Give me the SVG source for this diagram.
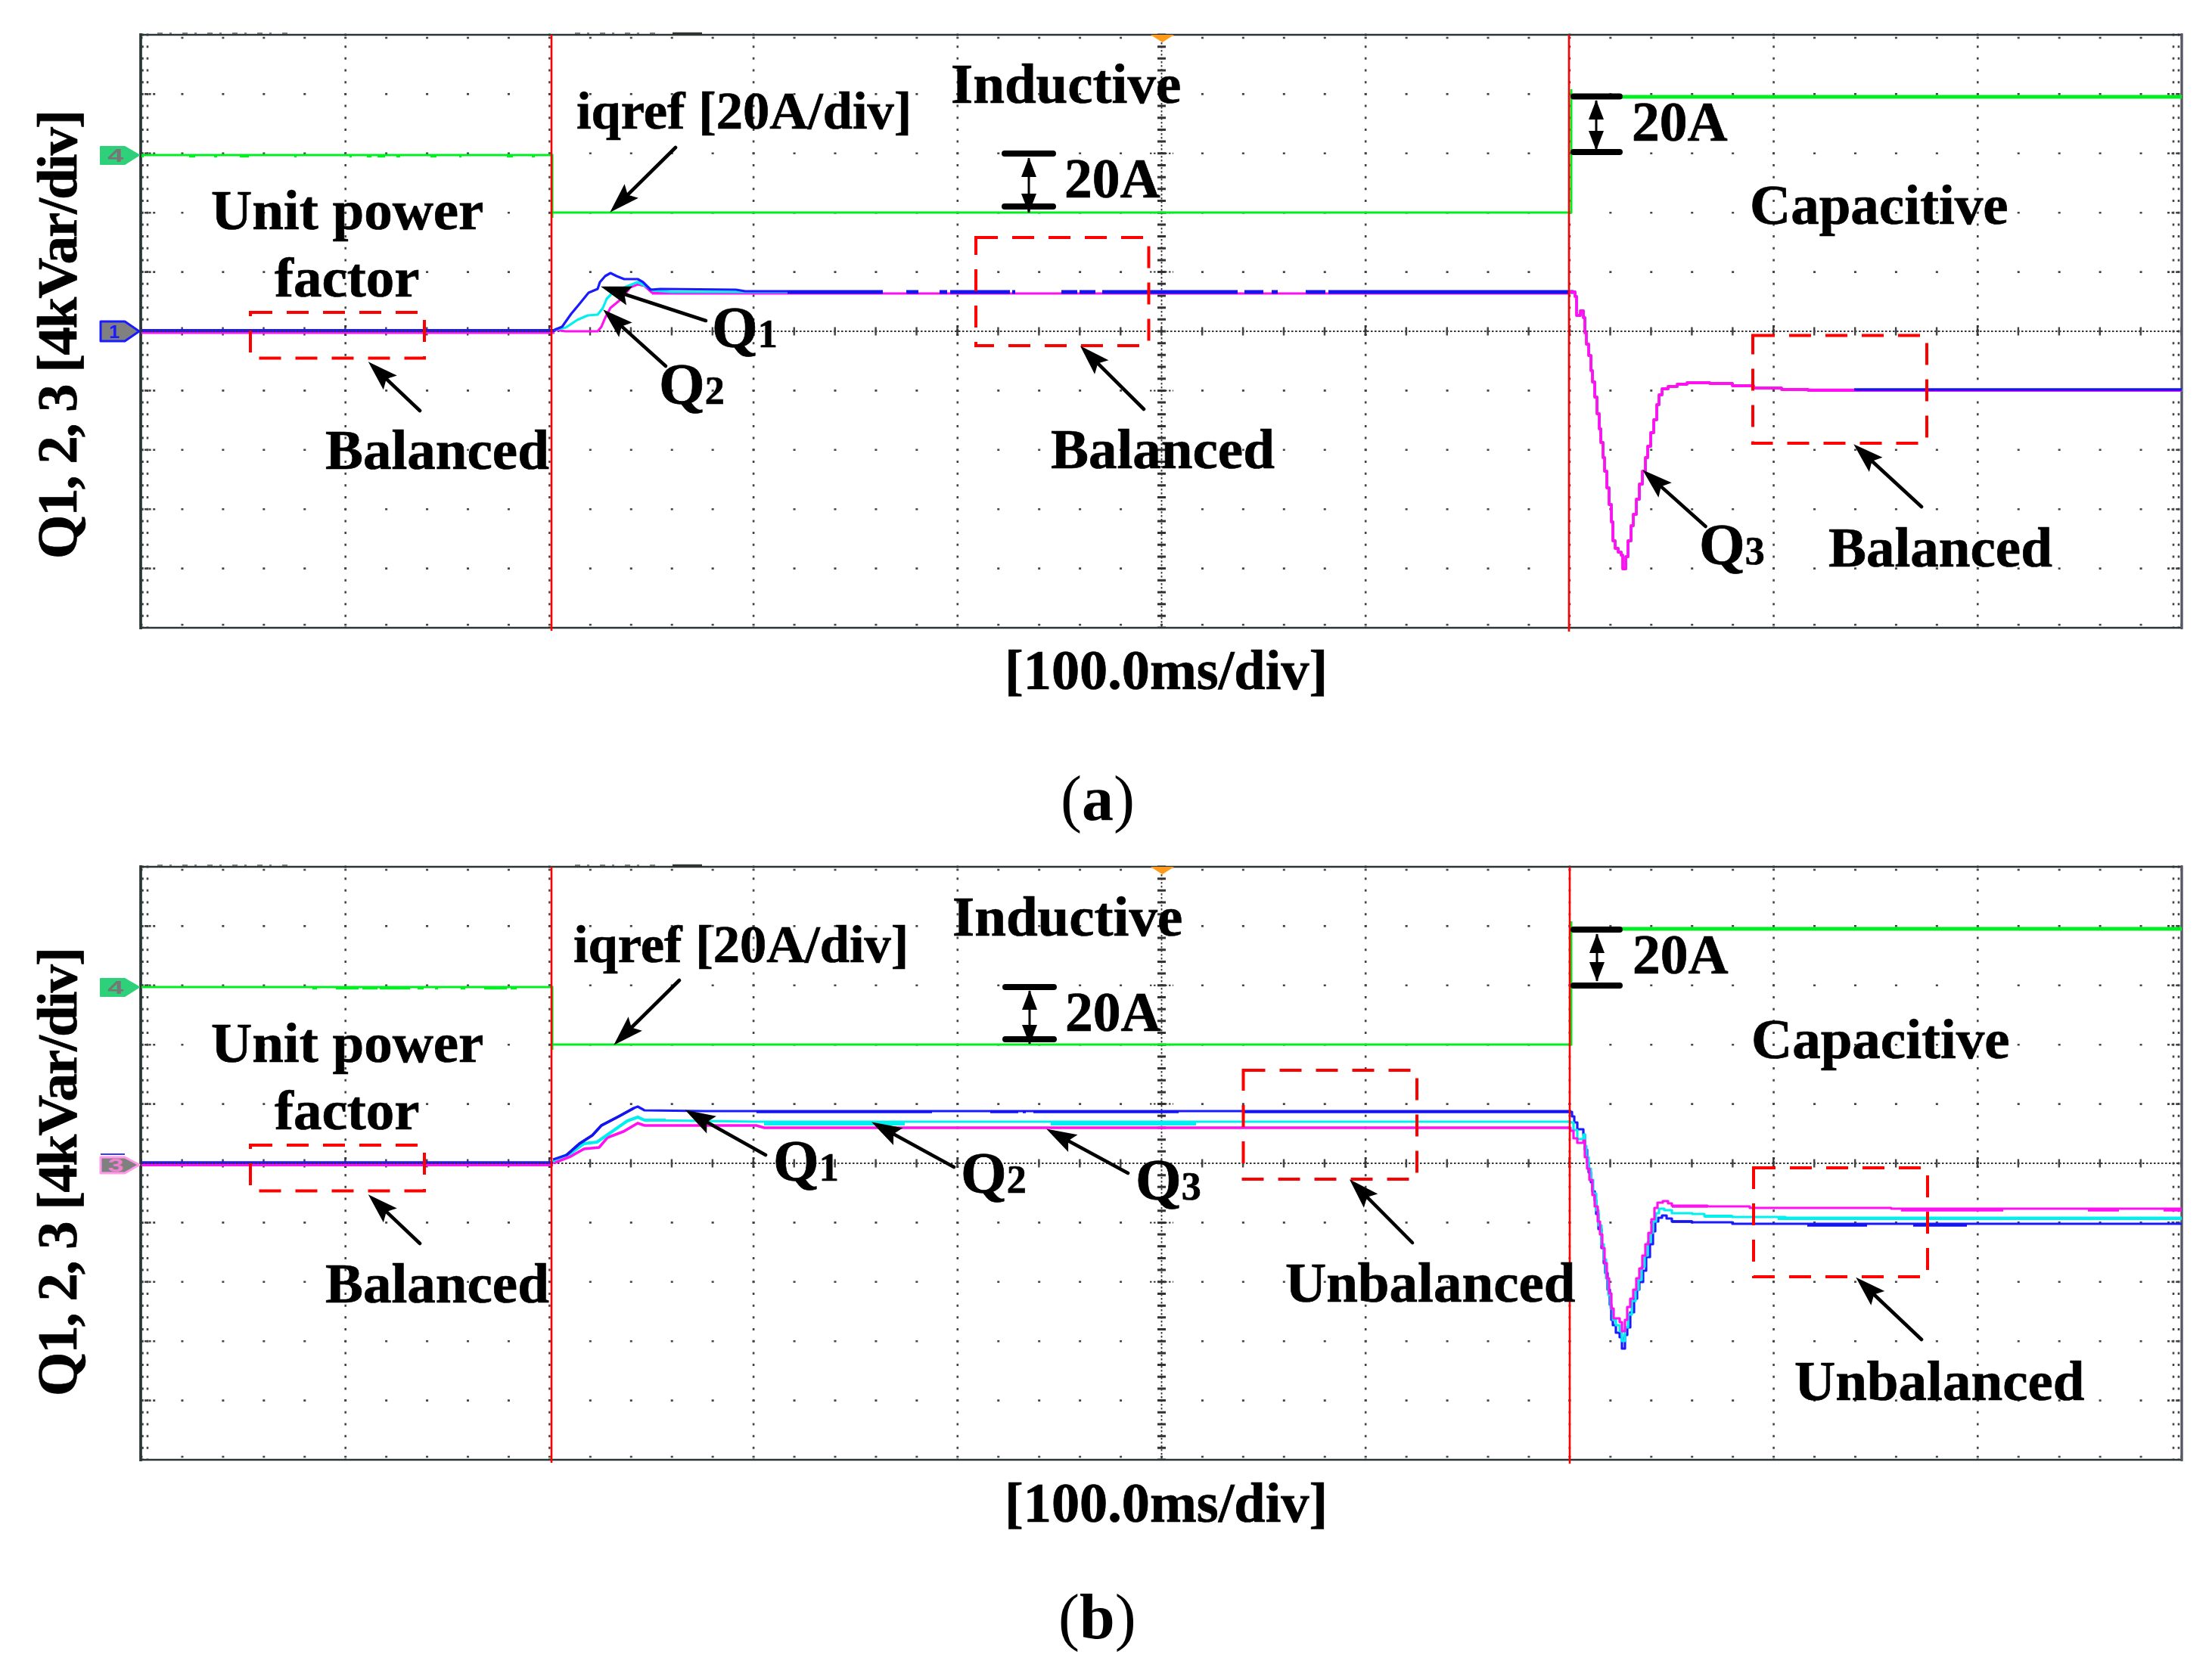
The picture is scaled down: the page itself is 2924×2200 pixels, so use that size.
<svg xmlns="http://www.w3.org/2000/svg" xmlns:xlink="http://www.w3.org/1999/xlink" width="2924" height="2200" viewBox="0 0 2924 2200">
<style>
text{font-family:"Liberation Serif","Times New Roman",serif;font-weight:bold;fill:#000}
.t{font-size:75px;stroke:#000;stroke-width:0.7}
.q{font-size:78px}
.s{font-size:52px}
.c{font-size:84px;font-weight:normal}
.ch{font-family:"Liberation Sans",Arial,sans-serif;font-size:23px;text-anchor:middle}
.d{fill:none;stroke:#444;stroke-width:2.6}
.col{stroke-dasharray:3 12.68}
.row{stroke-dasharray:3 50.94}
.fine{fill:none;stroke:#333;stroke-width:1.8;stroke-dasharray:2.5 2.5}
.frame{fill:none;stroke:#2b3535;stroke-width:2.6}
.red{stroke:#f00;stroke-width:2.6;fill:none}
.green{stroke:#00ee22;stroke-width:3;fill:none}
.gthick{stroke:#00ee22;stroke-width:5;fill:none}
.box{fill:none;stroke:#f00;stroke-width:4;stroke-dasharray:29 19}
.q1,.q2,.q3{fill:none;stroke-width:3.2;stroke-linejoin:round}
.q1{stroke:#1a1aff}.q2{stroke:#00f0f0}.q3{stroke:#ff10f0}
.q1t,.q2t,.q3t{fill:none;stroke-width:5}
.q1t{stroke:#1414f0}.q2t{stroke:#00f0f0}.q3t{stroke:#ff10f0}
.ar{fill:none;stroke:#000;stroke-width:4.6;stroke-linecap:round;stroke-dasharray:85 100;marker-end:url(#ah)}
.da{fill:none;stroke:#000;stroke-width:3;marker-start:url(#dh);marker-end:url(#dh)}
.bar{fill:none;stroke:#000;stroke-width:8;stroke-linecap:round}
</style>
<defs>
<marker id="ah" markerUnits="userSpaceOnUse" markerWidth="44" markerHeight="30" viewBox="0 0 40 30" refX="39" refY="15" orient="auto"><path d="M0 2L40 15L0 28L7 15z" fill="#000"/></marker>
<marker id="dh" markerUnits="userSpaceOnUse" markerWidth="26" markerHeight="24" viewBox="0 0 26 24" refX="25" refY="12" orient="auto-start-reverse"><path d="M0 2L26 12L0 22z" fill="#000"/></marker>
<g id="grid">
<path class="d row" d="M185.5 124.4H2884M185.5 202.8H2884M185.5 281.2H2884M185.5 359.6H2884M185.5 516.4H2884M185.5 594.8H2884M185.5 673.2H2884M185.5 751.6H2884M185.5 50H2884M185.5 826H2884"/>
<path class="d col" d="M456.7 44.5V830M726.4 44.5V830M996.1 44.5V830M1265.8 44.5V830M1805.2 44.5V830M2074.9 44.5V830M2344.6 44.5V830M2614.3 44.5V830M188.5 44.5V830M195 44.5V830M2873 44.5V830M2880 44.5V830"/>
<path class="d" style="stroke-dasharray:3 2.6" d="M191 124.4H206M191 202.8H206M191 281.2H206M191 359.6H206M191 516.4H206M191 594.8H206M191 673.2H206M191 751.6H206M2865 124.4H2882M2865 202.8H2882M2865 281.2H2882M2865 359.6H2882M2865 516.4H2882M2865 594.8H2882M2865 673.2H2882M2865 751.6H2882"/>
<path class="fine" d="M187 438H2884M1535.5 46V830"/>
<path class="d" style="stroke-width:3;stroke-dasharray:2.6 51.34" d="M185.5 438H2884"/>
<path d="M185.5 438H2884" fill="none" stroke="#444" stroke-width="11" stroke-dasharray="2.4 51.54"/>
<path d="M1535.5 44.5V830" fill="none" stroke="#333" stroke-width="11" stroke-dasharray="3 12.68"/>
<path d="M1520 202.8H1551M1520 281.2H1551M1520 359.6H1551M1520 516.4H1551M1520 594.8H1551" fill="none" stroke="#333" stroke-width="2" stroke-dasharray="2.5 2.5"/>
<path d="M456.7 430V446M726.4 430V446M996.1 430V446M1265.8 430V446M1805.2 430V446M2074.9 430V446M2344.6 430V446M2614.3 430V446" fill="none" stroke="#333" stroke-width="3" stroke-dasharray="3 2.5"/>
<path class="frame" d="M186 46H2884V830H186z"/>
<path d="M186 44V832" fill="none" stroke="#2b3535" stroke-width="3.6"/>
<path d="M2884 44V832" fill="none" stroke="#556" stroke-width="3"/>
<path d="M208 44H380M760 44H870" fill="none" stroke="#555" stroke-width="1.6" stroke-dasharray="7 9 3 14"/>
<path d="M889 44H928" fill="none" stroke="#333" stroke-width="2.4"/>
<path d="M1521 46H1552L1536.5 56z" fill="#ff9a1a"/>
</g>
<path id="trA" d="M2074 386H2082V392H2084V417H2089V411H2093V420H2095V440H2097V455H2100V470H2103V490H2105V505H2108V525H2111V547H2114V567H2116V585H2119V605H2121V623H2124V645H2127V667H2130V690H2132V715H2135V725H2139V730H2143V734H2145V752H2149V736H2152V715H2156V695H2159V680H2163V660H2167V640H2171V623H2175V605H2178V590H2182V572H2186V555H2190V535H2193V522H2197V514H2205V511H2217V508H2230V506H2260V507H2290V510H2318V513H2355V515H2390V516H2884"/>
</defs>
<rect width="2924" height="2200" fill="#fff"/>

<g id="panel-a">
<use href="#grid" xlink:href="#grid"/>
<g id="traces-a">
<path class="green" d="M187 205H730V288M730 281H2077V118"/>
<path class="gthick" d="M2077 128H2884"/>
<path d="M187 207H729" fill="none" stroke="#00ee22" stroke-width="2.5" stroke-dasharray="3 60 8 25 4 30 12 60 3 70 3 20 6 8 10 15 5 40 8 30"/>
<path class="q3" style="stroke-width:3" d="M187 440H733"/>
<path class="q1" style="stroke-width:4" d="M187 437H733"/>
<path class="q3" d="M733 436L748 438H790L795 432L800 420L807 407L818 398L827 388L833 380L843 376L852 378L862 387H1041M862 388H2074"/>
<path class="q2" d="M733 436L748 433L763 423L777 417L790 416L797 407L802 395L810 387L830 378L843 373L853 378L863 384L887 386H1041"/>
<path class="q1" d="M733 436L743 432L755 415L765 403L778 387L790 382L793 373L800 365L807 361L815 365L825 369L843 369L850 373L860 383L873 382L973 383L985 385H1041"/>
<path class="q1t" d="M1041 386H1167M1198 386H1214M1242 386H1252M1256 386H1335M1338 386H1342M1403 386H1424M1427 386H1448M1457 386H1636M1645 386H1670M1681 386H1689M1726 386H1752M1756 386H2080"/>
<use class="q2" href="#trA" xlink:href="#trA" transform="translate(0.5,0)"/>
<use class="q3" href="#trA" xlink:href="#trA" style="stroke-width:3.8"/>
<path class="q1t" style="stroke-width:3.4" d="M2451 515H2884"/>
<path class="q3t" style="stroke-width:3.4" d="M2390 515.5H2451"/>
<path class="fine" d="M187 438H729"/>
<path class="red" d="M729 46V834M2074 46V835"/>
</g>
<g id="annotations-a">
<rect class="box" x="331" y="413" width="230" height="60.500"/>
<rect class="box" x="1290" y="314" width="228.500" height="143"/>
<rect class="box" x="2317" y="443.500" width="230" height="142.500"/>
<path class="ar" pathLength="100" d="M893 195L807 280"/>
<path class="ar" pathLength="100" d="M933 424L795 379"/>
<path class="ar" pathLength="100" d="M880 484L798 410"/>
<path class="ar" pathLength="100" d="M555 543L487.500 479"/>
<path class="ar" pathLength="100" d="M1512 541L1428.600 458"/>
<path class="ar" pathLength="100" d="M2254.600 696L2172 622"/>
<path class="ar" pathLength="100" d="M2540 670L2451 588"/>
<path class="bar" d="M1328 203H1392M1328 273H1392M2080 127.500H2141M2080 201H2141"/>
<path class="da" d="M1360 209V281"/>
<path class="da" d="M2110 133V198"/>
</g>
<g id="marks-a">
<path d="M133 194H165L184 205L165 217H133z" fill="#2ed07a" stroke="#2ed07a" stroke-width="2" stroke-linejoin="round"/>
<text class="ch" x="153" y="214" textLength="21" lengthAdjust="spacingAndGlyphs" style="fill:#777">4</text>
<path d="M133 425H165L184 438L165 451H133z" fill="#808080" stroke="#1a1aff" stroke-width="3" stroke-linejoin="round"/>
<text class="ch" x="151" y="447" textLength="14" lengthAdjust="spacingAndGlyphs" style="fill:#1a1aff">1</text>
</g>
<g id="labels-a">
<text class="t" transform="translate(101,739) rotate(-90)" textLength="594">Q1, 2, 3 [4kVar/div]</text>
<text class="t" x="279" y="303">Unit power</text>
<text class="t" x="363" y="392">factor</text>
<text class="t" x="430" y="620">Balanced</text>
<text class="t" x="762" y="170" style="font-size:70.500px">iqref [20A/div]</text>
<text class="t" x="1257" y="136">Inductive</text>
<text class="t" x="1407" y="261" style="font-size:73.500px">20A</text>
<text class="t" x="1389" y="619">Balanced</text>
<text class="t q" x="941" y="459">Q<tspan class="s">1</tspan></text>
<text class="t q" x="871" y="534">Q<tspan class="s">2</tspan></text>
<text class="t q" x="2246" y="746">Q<tspan class="s">3</tspan></text>
<text class="t" x="2157" y="185.500" style="font-size:73.500px">20A</text>
<text class="t" x="2313" y="296">Capacitive</text>
<text class="t" x="2417" y="749">Balanced</text>
<text class="t" x="1328" y="911" style="font-size:74.300px">[100.0ms/div]</text>
<text class="c" x="1402" y="1084">(<tspan style="font-weight:bold">a</tspan>)</text>
</g>
</g>

<g id="panel-b">
<use href="#grid" xlink:href="#grid" transform="translate(0,1100)"/>
<g id="traces-b">
<path class="green" d="M187 1305H730V1388M730 1381H2077V1218"/>
<path class="gthick" d="M2077 1228H2884"/>
<path d="M413 1307H683" fill="none" stroke="#00ee22" stroke-width="2.5" stroke-dasharray="6 25 30 5 20 3 40 10 8 15 4 30"/>
<path class="q3t" style="stroke-width:4" d="M187 1540H731"/>
<path class="q1" style="stroke-width:3.600" d="M187 1537H731"/>
<path class="q3t" style="stroke-width:3.600" d="M731 1537L734 1537L754 1529L772 1519L792 1517L803 1504L824 1496L843 1485L852 1488H1000L1010 1491H2076"/>
<path class="q2" d="M731 1536L734 1533L754 1525L772 1512L789 1510L812 1494L829 1482L843 1477L852 1481L1000 1483H2074"/>
<path class="q2t" style="stroke-width:4" d="M734 1533L754 1525L772 1512L789 1510L812 1494L829 1482L843 1477L852 1481H880M1010 1486H1196M1389 1486H1581"/>
<path class="q1" d="M731 1533L749 1527L766 1512L783 1501L795 1488L818 1476L838 1465L843 1463L852 1468L932 1469H2077"/>
<path class="q1t" style="stroke-width:3.600" d="M749 1527L766 1512L783 1501L795 1488L818 1476L838 1465M1000 1470H1232M1309 1470H1346M1352 1470H1356M1366 1470H1558M1644 1470H2077"/>
<path class="q1" d="M2073 1470H2078V1476H2081V1484H2085V1493H2093V1500H2095V1520H2098V1537H2100V1550H2103V1563H2105V1575H2108V1587H2110V1605H2113V1625H2117V1650H2120V1670H2122V1683H2125V1705H2128V1725H2130V1745H2132V1752H2136V1762H2141V1768H2144V1783H2148V1765H2151V1755H2155V1735H2160V1717H2164V1705H2167V1695H2172V1680H2176V1662H2181V1645H2185V1628H2188V1615H2192V1610H2197V1607H2203V1611H2210V1615H2237V1616H2290V1618H2884"/>
<path class="q2" d="M2072 1483H2076V1484H2080V1494H2085V1506H2093V1500H2095V1515H2097V1530H2100V1545H2103V1560H2106V1578H2110V1600H2113V1620H2117V1645H2120V1665H2123V1690H2126V1712H2129V1730H2132V1745H2136V1752H2141V1760H2144V1773H2148V1755H2152V1738H2157V1720H2162V1705H2166V1692H2170V1675H2174V1660H2178V1642H2182V1630H2185V1615H2189V1604H2193V1598H2200V1600H2210V1604H2237V1605H2253V1608H2290V1609H2360V1610H2884"/>
<path class="q3" d="M2072 1491H2076V1495H2080V1505H2085V1511H2093V1508H2095V1530H2098V1545H2101V1560H2105V1580H2108V1595H2112V1615H2115V1632H2118V1650H2121V1670H2124V1690H2127V1710H2130V1730H2133V1743H2141V1748H2144V1760H2148V1745H2151V1728H2155V1717H2159V1705H2163V1690H2167V1677H2171V1660H2175V1645H2179V1630H2183V1612H2187V1597H2191V1590H2198V1588H2205V1591H2210V1594H2257V1595H2313V1597H2500V1598H2884"/>
<path class="q1t" style="stroke-width:3.600" d="M2389 1620H2468M2529 1620H2600M2210 1615H2237"/>
<path class="q2t" style="stroke-width:4" d="M2253 1608H2290M2350 1611H2884"/>
<path class="q3t" style="stroke-width:3.600" d="M2210 1595H2257M2513 1600H2648M2760 1600H2801M2860 1600H2884"/>
<path class="fine" d="M187 1538H729"/>
<path class="red" d="M729 1146V1934M2075 1146V1935"/>
</g>
<g id="annotations-b">
<rect class="box" x="331" y="1514" width="230" height="60.500"/>
<rect class="box" x="1643.500" y="1415" width="229.500" height="144"/>
<rect class="box" x="2318" y="1544" width="230" height="144"/>
<path class="ar" pathLength="100" d="M898 1296L812 1381"/>
<path class="ar" pathLength="100" d="M555 1644L487.500 1580"/>
<path class="ar" pathLength="100" d="M1012 1527L906.500 1468"/>
<path class="ar" pathLength="100" d="M1261 1543L1153 1484"/>
<path class="ar" pathLength="100" d="M1491 1551L1384 1493"/>
<path class="ar" pathLength="100" d="M1867 1643L1784.600 1560"/>
<path class="ar" pathLength="100" d="M2540 1771L2454 1689.500"/>
<path class="bar" d="M1329 1305H1393M1329 1374H1393M2080 1229H2141M2080 1303H2141"/>
<path class="da" d="M1361 1310V1380"/>
<path class="da" d="M2111 1235V1297"/>
</g>
<g id="marks-b">
<path d="M133 1294H165L184 1305L165 1317H133z" fill="#2ed07a" stroke="#2ed07a" stroke-width="2" stroke-linejoin="round"/>
<text class="ch" x="153" y="1314" textLength="21" lengthAdjust="spacingAndGlyphs" style="fill:#777">4</text>
<path d="M133 1526H165" fill="none" stroke="#3a3aff" stroke-width="2"/>
<path d="M133 1530H165L184 1540L165 1551H133z" fill="#808080" stroke="#ff9ae8" stroke-width="3" stroke-linejoin="round"/>
<text class="ch" x="153" y="1549" textLength="21" lengthAdjust="spacingAndGlyphs" style="fill:#f080d0">3</text>
</g>
<g id="labels-b">
<text class="t" transform="translate(101,1846) rotate(-90)" textLength="594">Q1, 2, 3 [4kVar/div]</text>
<text class="t" x="279" y="1404">Unit power</text>
<text class="t" x="363" y="1493">factor</text>
<text class="t" x="430" y="1722">Balanced</text>
<text class="t" x="758" y="1272" style="font-size:70.500px">iqref [20A/div]</text>
<text class="t" x="1259" y="1237">Inductive</text>
<text class="t" x="1408" y="1363" style="font-size:73.500px">20A</text>
<text class="t q" x="1022" y="1561">Q<tspan class="s">1</tspan></text>
<text class="t q" x="1270" y="1577">Q<tspan class="s">2</tspan></text>
<text class="t q" x="1501" y="1586">Q<tspan class="s">3</tspan></text>
<text class="t" x="1699" y="1721">Unbalanced</text>
<text class="t" x="2158" y="1287" style="font-size:73.500px">20A</text>
<text class="t" x="2315" y="1399">Capacitive</text>
<text class="t" x="2372" y="1851">Unbalanced</text>
<text class="t" x="1328" y="2012" style="font-size:74.300px">[100.0ms/div]</text>
<text class="c" x="1399" y="2166">(<tspan style="font-weight:bold">b</tspan>)</text>
</g>
</g>
</svg>
